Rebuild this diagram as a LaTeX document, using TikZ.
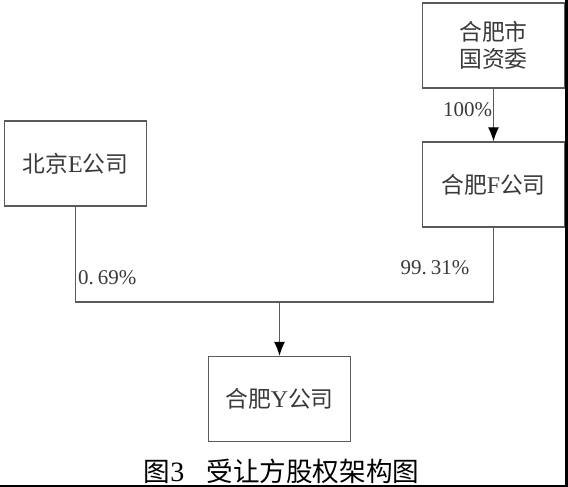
\documentclass[tikz,border=0pt]{standalone}
\usepackage{fontspec}
\setmainfont{Liberation Serif}
\newfontfamily\cjk{Noto Sans CJK SC}[Scale=0.95]
\usetikzlibrary{arrows.meta}
\definecolor{txt}{HTML}{3A3A3A}
\definecolor{ln}{HTML}{5A5A5A}
\tikzset{
  box/.style={draw=ln, line width=1.3pt, minimum width=142pt, minimum height=85pt,
    inner sep=0pt, text=txt, font=\fontsize{24}{28}\selectfont, align=center},
  conn/.style={draw=ln, line width=1.2pt},
  arr/.style={conn, -{Latex[length=14pt,width=11pt,color=black]}},
  pct/.style={text=txt, font=\fontsize{21}{25}\selectfont, inner sep=0pt}
}
\begin{document}
\begin{tikzpicture}[x=1pt,y=1pt]
\useasboundingbox (0,0) rectangle (568,-487);
\fill[white] (0,0) rectangle (568,-487);
% boxes
\node[box] (G) at (493.5,-45.5) {{\cjk 合肥市}\\[-1pt]{\cjk 国资委}};
\node[box] (F) at (493.5,-184.5) {{\cjk 合肥}F{\cjk 公司}};
\node[box] (E) at (75.5,-163.5) {{\cjk 北京}E{\cjk 公司}};
\node[box] (Y) at (279.5,-399) {{\cjk 合肥}Y{\cjk 公司}};
\coordinate (J) at (279.5,-302);
% connectors
\draw[arr] (G.south) -- (F.north);
\draw[conn] (E.south) |- (J) -| (F.south);
\draw[arr] (J) -- (Y.north);
% labels
\node[pct] (p100) at (467.5,-110) {100\%};
\node[pct, anchor=west] (p069) at (78,-278) {0.\hspace{4pt}69\%};
\node[pct] (p9931) at (435,-268) {99.\hspace{4pt}31\%};
% caption
\node[text=black, inner sep=0pt, font=\fontsize{28}{32}\selectfont] (cap) at (281.5,-471) {{\cjk 图}3\hspace{22pt}{\cjk 受让方股权架构图}};
% image border strips
\fill[black] (565,0) rectangle (568,-487);
\fill[black] (0,-485) rectangle (568,-487);
\end{tikzpicture}
\end{document}
